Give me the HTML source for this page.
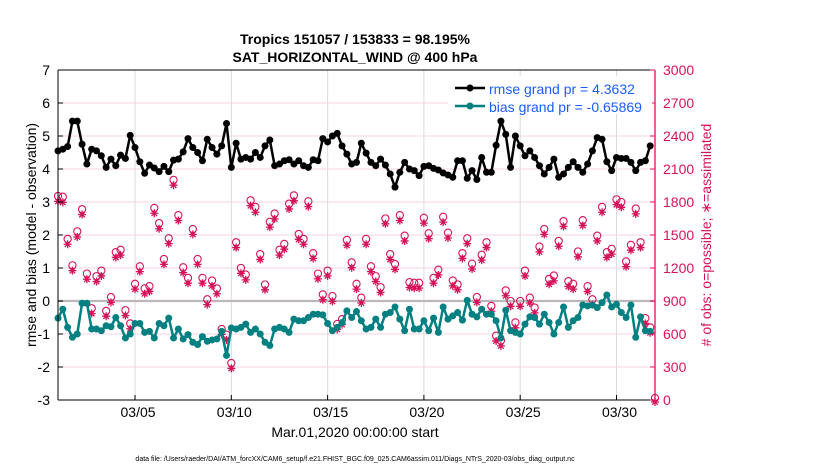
<!DOCTYPE html>
<html><head><meta charset="utf-8"><style>
html,body{margin:0;padding:0;background:#fff;width:830px;height:470px;overflow:hidden}
svg{display:block;font-family:"Liberation Sans",Arial,sans-serif}
</style></head><body>
<svg id="chart" width="830" height="470" viewBox="0 0 830 470" xmlns="http://www.w3.org/2000/svg">
<text x="355" y="44" text-anchor="middle" font-size="14" font-weight="bold">Tropics 151057 / 153833 = 98.195%</text>
<text x="355" y="62" text-anchor="middle" font-size="14" font-weight="bold">SAT_HORIZONTAL_WIND @ 400 hPa</text>
<g id="grid"></g>
<g id="marks"></g>
<g id="axes"></g>
<text transform="translate(36,235) rotate(-90)" text-anchor="middle" font-size="14">rmse and bias (model - observation)</text>
<text transform="translate(711,235) rotate(-90)" text-anchor="middle" font-size="14" fill="#d4145a">#  of obs: o=possible; ∗=assimilated</text>
<text x="355" y="437" text-anchor="middle" font-size="14">Mar.01,2020 00:00:00 start</text>
<text x="355" y="461" text-anchor="middle" font-size="7">data file: /Users/raeder/DAI/ATM_forcXX/CAM6_setup/f.e21.FHIST_BGC.f09_025.CAM6assim.011/Diags_NTrS_2020-03/obs_diag_output.nc</text>
<g>
<rect x="448" y="76" width="204" height="38" fill="#fff"/>
<g><line x1="455" y1="88" x2="485" y2="88" stroke="#000" stroke-width="2.5"/><circle cx="470" cy="88" r="3.5" fill="#000"/><text x="489" y="94" font-size="14" fill="#1a5cff">rmse grand pr = 4.3632</text></g>
<g><line x1="455" y1="106" x2="485" y2="106" stroke="#008080" stroke-width="2.5"/><circle cx="470" cy="106" r="3.5" fill="#008080"/><text x="489" y="112" font-size="14" fill="#1a5cff">bias grand pr = -0.65869</text></g>
</g>
</svg>
<script>
const rmse=[4.55,4.6,4.68,5.45,5.45,4.75,4.15,4.6,4.55,4.4,4.05,4.3,4.1,4.42,4.32,5.02,4.65,4.22,3.87,4.12,4.03,3.92,4.08,3.92,4.27,4.3,4.52,4.92,4.65,4.5,4.25,4.9,
4.65,4.45,4.7,5.38,4.05,4.78,4.3,4.35,4.3,4.5,4.35,4.7,4.88,4.1,4.15,4.25,4.28,4.15,4.25,4.1,4.05,4.28,4.25,4.92,4.82,5.0,5.08,4.7,4.45,4.15,4.2,
4.78,4.48,4.2,4.1,4.3,4.12,3.85,3.45,3.9,4.2,4.0,3.95,3.8,4.08,4.1,4.02,3.97,3.88,3.82,3.75,4.25,4.25,3.72,3.95,3.68,4.35,3.9,3.9,4.72,5.45,
5.05,4.05,5.0,4.7,4.4,4.55,4.35,4.1,3.85,4.05,4.3,3.75,3.85,4.05,4.22,4.05,3.9,4.15,4.55,4.95,4.9,4.22,3.95,4.35,4.32,4.32,4.2,3.95,4.2,4.25,4.7,null];
const bias=[-0.52,-0.25,-0.8,-1.1,-1.0,-0.07,-0.07,-0.85,-0.85,-0.9,-0.75,-0.78,-0.5,-0.75,-1.12,-1.0,-0.68,-0.68,-0.95,-0.92,-1.12,-0.68,-0.75,-0.52,-1.12,-0.85,-1.15,-1.02,-1.25,-1.32,-1.08,-1.22,
-1.18,-1.15,-0.92,-1.65,-0.82,-0.85,-0.8,-0.7,-0.95,-0.85,-1.0,-1.25,-1.35,-0.85,-0.8,-0.85,-0.95,-0.55,-0.6,-0.6,-0.5,-0.4,-0.4,-0.42,-0.68,-0.9,-0.8,-0.65,-0.3,-0.5,-0.32,
-0.6,-0.85,-0.8,-0.55,-0.8,-0.4,-0.35,-0.18,-0.55,-0.9,-0.25,-0.85,-0.85,-0.6,-0.9,-0.52,-0.95,-0.18,-0.55,-0.45,-0.35,-0.58,0.02,-0.4,-0.48,-0.25,-0.4,-0.4,-0.6,-1.12,
-0.28,-0.9,-0.95,-1.0,-0.7,-0.48,-0.5,-0.7,-0.4,-0.65,-1.0,-0.65,-0.18,-0.8,-0.6,-0.5,-0.12,-0.15,-0.12,-0.2,-0.05,0.18,-0.18,-0.1,-0.35,-0.5,-0.12,-1.1,-0.48,-0.9,-0.92,null];
const obsUsed=[1824,1815,1434,1194,1500,1704,1116,804,1095,1146,780,906,1314,1335,786,666,1026,1185,984,1005,1716,1575,1251,1440,1971,1650,1176,1080,1524,1251,1080,885,
1056,984,615,564,306,1404,1170,1110,1785,1725,1296,1020,1590,1665,1335,1389,1755,1830,1479,1434,1776,1305,1119,930,1146,915,660,705,1425,1221,1026,
900,1434,1185,1095,996,1620,1296,1206,1650,1464,1041,1035,1035,1626,1485,1080,1155,1635,1491,1056,1020,1305,1440,1209,906,1290,1404,825,555,510,966,
870,675,870,1146,900,810,1365,1524,1071,1101,1416,1596,1050,1026,1320,1605,1005,885,1464,1725,1314,1344,1794,1770,1230,1380,1710,1404,714,630,0];
const obsPossible=[1836,1830,1446,1206,1515,1716,1131,816,1107,1158,792,918,1326,1347,798,678,1038,1197,996,1017,1728,1590,1263,1452,1983,1662,1188,1092,1536,1263,1092,897,
1068,996,627,576,318,1416,1182,1122,1797,1737,1308,1032,1602,1677,1347,1401,1767,1842,1491,1446,1788,1317,1131,942,1158,927,672,717,1437,1233,1038,
912,1446,1197,1107,1008,1632,1308,1218,1662,1476,1053,1047,1047,1638,1497,1092,1167,1647,1503,1068,1032,1317,1452,1221,918,1302,1416,837,567,522,978,
882,687,882,1158,912,822,1377,1536,1083,1113,1428,1608,1062,1038,1332,1617,1017,897,1476,1737,1326,1356,1806,1782,1242,1392,1722,1416,726,642,0];
const leftTicks=[-3,-2,-1,0,1,2,3,4,5,6,7];
const rightTicks=[0,300,600,900,1200,1500,1800,2100,2400,2700,3000];
const dateTickIdx=[16,36,56,76,96,116];
const dateTickLabels=["03/05","03/10","03/15","03/20","03/25","03/30"];

const NS="http://www.w3.org/2000/svg";
const L=58,R=655,T=70,B=400,N=rmse.length;
function x(i){return L+i*(R-L)/(N-1);}
function yL(v){return B-(v+3)/10*(B-T);}
function yR(c){return B-c/3000*(B-T);}
function mk(tag,attrs,parent){const e=document.createElementNS(NS,tag);for(const k in attrs)e.setAttribute(k,attrs[k]);parent.appendChild(e);return e;}
const grid=document.getElementById('grid'),marks=document.getElementById('marks'),axes=document.getElementById('axes');

mk('rect',{x:L,y:T,width:R-L,height:B-T,fill:'#fff'},grid);
leftTicks.forEach(v=>{const g=mk('line',{x1:L,x2:R,y1:yL(v),y2:yL(v),stroke:'#f5d3e0','stroke-width':1},grid);

});
dateTickIdx.forEach(i=>{const g=mk('line',{x1:x(i),x2:x(i),y1:T,y2:B,stroke:'#dcdcdc','stroke-width':1},grid);

});
const z=mk('line',{x1:L,x2:R,y1:yL(0),y2:yL(0),stroke:'#bdb6ba','stroke-width':2.2},grid);



// obs counts
obsPossible.forEach((c,i)=>{const e=mk('circle',{cx:x(i),cy:yR(c)-2,r:3.6,fill:'none',stroke:'#d4145a','stroke-width':1.1},marks);

});
obsUsed.forEach((c,i)=>{const cx=x(i),cy=yR(c)+2,r=4;
 const d=`M${cx-r} ${cy}L${cx+r} ${cy}M${cx} ${cy-r}L${cx} ${cy+r}M${cx-r*0.7} ${cy-r*0.7}L${cx+r*0.7} ${cy+r*0.7}M${cx-r*0.7} ${cy+r*0.7}L${cx+r*0.7} ${cy-r*0.7}`;
 const p=mk('path',{d:d,stroke:'#d4145a','stroke-width':1.3,fill:'none'},marks);
 
 });

function series(vals,color,name){
 let d='';let pen=false;
 vals.forEach((v,i)=>{if(v===null){pen=false;return;}d+=(pen?'L':'M')+x(i).toFixed(2)+' '+yL(v).toFixed(2)+' ';pen=true;});
 const p=mk('path',{d:d,fill:'none',stroke:color,'stroke-width':2.5,'stroke-linejoin':'round'},marks);
 
 
 vals.forEach((v,i)=>{if(v===null)return;const c=mk('circle',{cx:x(i),cy:yL(v),r:3.5,fill:color},marks);
 
 });
}
series(rmse,'#000','rmse');
series(bias,'#008080','bias');

// axes
const lax=mk('line',{x1:L,x2:L,y1:T,y2:B,stroke:'#000','stroke-width':1},axes);


const tax=mk('line',{x1:L,x2:R,y1:T,y2:T,stroke:'#000','stroke-width':1},axes);


const bax=mk('line',{x1:L,x2:R,y1:B,y2:B,stroke:'#000','stroke-width':1},axes);


const rax=mk('line',{x1:R,x2:R,y1:T,y2:B,stroke:'#d4145a','stroke-width':1.3},axes);


leftTicks.forEach(v=>{mk('line',{x1:L,x2:L+5,y1:yL(v),y2:yL(v),stroke:'#000'},axes);
const t=mk('text',{x:L-8,y:yL(v)+5,'text-anchor':'end','font-size':14},axes);t.textContent=v;

});
rightTicks.forEach(c=>{mk('line',{x1:R-5,x2:R,y1:yR(c),y2:yR(c),stroke:'#d4145a'},axes);
const t=mk('text',{x:R+8,y:yR(c)+5,'font-size':14,fill:'#d4145a'},axes);t.textContent=c;

});
dateTickIdx.forEach((i,k)=>{mk('line',{x1:x(i),x2:x(i),y1:B-5,y2:B,stroke:'#000'},axes);
const t=mk('text',{x:x(i)+3,y:B+17,'text-anchor':'middle','font-size':14},axes);t.textContent=dateTickLabels[k];

});
</script>
</body></html>
